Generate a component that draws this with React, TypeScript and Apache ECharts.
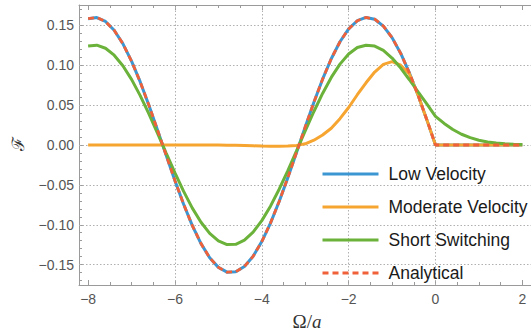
import React, { useEffect, useRef } from "react";
import * as echarts from "echarts";

// sample positions (Ω/a)
const xs = [-8, -7.8, -7.6, -7.4, -7.2, -7, -6.8, -6.6, -6.4, -6.2, -6, -5.8, -5.6, -5.4, -5.2, -5, -4.8, -4.6, -4.4, -4.2, -4, -3.8, -3.6, -3.4, -3.2, -3, -2.8, -2.6, -2.4, -2.2, -2, -1.8, -1.6, -1.4, -1.2, -1, -0.8, -0.6, -0.4, -0.2, 0, 0.2, 0.4, 0.6, 0.8, 1, 1.2, 1.4, 1.6, 1.8, 2];

const lowVelocity = [0.1583, 0.1598, 0.1549, 0.1438, 0.1270, 0.1051, 0.0791, 0.0498, 0.0186, -0.0133, -0.0447, -0.0743, -0.1010, -0.1236, -0.1414, -0.1534, -0.1594, -0.1590, -0.1523, -0.1395, -0.1211, -0.0979, -0.0708, -0.0409, -0.0093, 0.0226, 0.0536, 0.0825, 0.1081, 0.1294, 0.1455, 0.1558, 0.1599, 0.1577, 0.1491, 0.1346, 0.1148, 0.0903, 0.0623, 0.0318, 0, 0, 0, 0, 0, 0, 0, 0, 0, 0, 0];

const moderateVelocity = [0, 0, 0, 0, 0, 0, 0, 0, 0, 0, 0, 0, 0, 0, 0, 0, -0.0002, -0.0004, -0.0007, -0.0010, -0.0013, -0.0015, -0.0016, -0.0013, -0.0005, 0.0015, 0.0060, 0.0125, 0.0210, 0.0330, 0.0470, 0.0630, 0.0780, 0.0915, 0.1010, 0.1045, 0.1000, 0.0890, 0.0623, 0.0318, 0, 0, 0, 0, 0, 0, 0, 0, 0, 0, 0];

const shortSwitching = [0.1240, 0.1251, 0.1213, 0.1126, 0.0994, 0.0823, 0.0619, 0.0390, 0.0146, -0.0104, -0.0350, -0.0582, -0.0791, -0.0968, -0.1107, -0.1201, -0.1248, -0.1245, -0.1193, -0.1092, -0.0948, -0.0767, -0.0554, -0.0320, -0.0073, 0.0177, 0.0420, 0.0646, 0.0847, 0.1014, 0.1140, 0.1222, 0.1250, 0.1240, 0.1186, 0.1090, 0.0964, 0.0818, 0.0665, 0.0515, 0.0360, 0.0270, 0.0195, 0.0135, 0.0092, 0.0060, 0.0038, 0.0024, 0.0015, 0.0009, 0.0005];

const analytical = [0.1583, 0.1598, 0.1549, 0.1438, 0.1270, 0.1051, 0.0791, 0.0498, 0.0186, -0.0133, -0.0447, -0.0743, -0.1010, -0.1236, -0.1414, -0.1534, -0.1594, -0.1590, -0.1523, -0.1395, -0.1211, -0.0979, -0.0708, -0.0409, -0.0093, 0.0226, 0.0536, 0.0825, 0.1081, 0.1294, 0.1455, 0.1558, 0.1599, 0.1577, 0.1491, 0.1346, 0.1148, 0.0903, 0.0623, 0.0318, 0, 0, 0, 0, 0, 0, 0, 0, 0, 0, 0];

const seriesNames = ["Low Velocity", "Moderate Velocity", "Short Switching", "Analytical"];

// ticks
const xMajor = [-8, -6, -4, -2, 0, 2];
const xMinor = [-7.5, -7, -6.5, -5.5, -5, -4.5, -3.5, -3, -2.5, -1.5, -1, -0.5, 0.5, 1, 1.5];
const xGrid = [-6, -4, -2, 0];
const yMajor = [-0.15, -0.1, -0.05, 0, 0.05, 0.1, 0.15];
const yMinor = [-0.17, -0.16, -0.14, -0.13, -0.12, -0.11, -0.09, -0.08, -0.07, -0.06, -0.04, -0.03, -0.02, -0.01, 0.01, 0.02, 0.03, 0.04, 0.06, 0.07, 0.08, 0.09, 0.11, 0.12, 0.13, 0.14, 0.16, 0.17];
const yGrid = [-0.15, -0.1, -0.05, 0, 0.05, 0.1, 0.15];

const X_MIN = -8.21;
const X_MAX = 2.2;
const Y_MIN = -0.1755;
const Y_MAX = 0.1755;

const FRAME = "#9a9a9a";
const LABEL = "#555555";

const minus = (s: string) => s.replace("-", "\u2212");

function pairs(ys: number[]) {
  return xs.map((x, i) => [x, ys[i]]);
}

export default function App() {
  const ref = useRef<HTMLDivElement>(null);
  useEffect(() => {
    if (!ref.current) return;
    const chart = echarts.init(ref.current, undefined, { renderer: "svg" });

    const xAxisBase = (position: string, ticks: number[], len: number, showLine: boolean, showLabel: boolean) => ({
      type: "value",
      min: X_MIN,
      max: X_MAX,
      position,
      axisLine: { show: showLine, onZero: false, lineStyle: { color: FRAME, width: 1 } },
      axisTick: { show: true, inside: true, length: len, customValues: ticks, lineStyle: { color: FRAME, width: 1 } },
      axisLabel: showLabel
        ? {
            show: true,
            customValues: xMajor,
            formatter: (v: number) => minus(String(v)),
            color: LABEL,
            fontSize: 14,
            fontFamily: "Liberation Sans, Arial, sans-serif",
            margin: 7,
          }
        : { show: false },
      splitLine: { show: false },
    });
    const yAxisBase = (ticks: number[], len: number, showLine: boolean, showLabel: boolean) => ({
      type: "value",
      min: Y_MIN,
      max: Y_MAX,
      position: "left",
      axisLine: { show: showLine, onZero: false, lineStyle: { color: FRAME, width: 1 } },
      axisTick: { show: true, inside: true, length: len, customValues: ticks, lineStyle: { color: FRAME, width: 1 } },
      axisLabel: showLabel
        ? {
            show: true,
            customValues: yMajor,
            formatter: (v: number) => minus(v.toFixed(2)),
            color: LABEL,
            fontSize: 14,
            fontFamily: "Liberation Sans, Arial, sans-serif",
            margin: 5,
          }
        : { show: false },
      splitLine: { show: false },
    });

    const colors = ["#3c96d2", "#f6a531", "#6ab23a", "#f0613a"];

    chart.setOption({
      animation: false,
      backgroundColor: "#ffffff",
      grid: { left: 79, top: 5, width: 453, height: 280, containLabel: false },
      xAxis: [
        xAxisBase("bottom", xMajor, 5, true, true),
        xAxisBase("bottom", xMinor, 3, false, false),
        xAxisBase("top", xMajor, 5, true, false),
        xAxisBase("top", xMinor, 3, false, false),
      ],
      yAxis: [
        yAxisBase(yMajor, 5, true, true),
        yAxisBase(yMinor, 3, false, false),
      ],
      legend: {
        orient: "vertical",
        left: 321,
        top: 164,
        padding: 0,
        itemWidth: 56,
        itemHeight: 4,
        itemGap: 13,
        data: seriesNames,
        textStyle: {
          fontSize: 17.5,
          color: "#1a1a1a",
          fontFamily: "Liberation Sans, Arial, sans-serif",
          lineHeight: 20,
          padding: [0, 0, 0, 5],
        },
        itemStyle: { opacity: 0, borderWidth: 0 },
        lineStyle: { width: 3, opacity: 1 },
      },
      series: [
        {
          name: seriesNames[0],
          type: "line",
          data: pairs(lowVelocity),
          symbol: "none",
          color: colors[0],
          lineStyle: { width: 3, color: colors[0] },
          z: 2,
          markLine: {
            silent: true,
            z: 1,
            symbol: ["none", "none"],
            label: { show: false },
            emphasis: { disabled: true },
            lineStyle: { color: "#b0b0b0", type: [1.5, 2], width: 1 },
            data: [
              ...xGrid.map((v) => ({ xAxis: v })),
              ...yGrid.map((v) => ({ yAxis: v })),
            ],
          },
        },
        {
          name: seriesNames[1],
          type: "line",
          data: pairs(moderateVelocity),
          symbol: "none",
          color: colors[1],
          lineStyle: { width: 3, color: colors[1] },
          z: 3,
        },
        {
          name: seriesNames[2],
          type: "line",
          data: pairs(shortSwitching),
          symbol: "none",
          color: colors[2],
          lineStyle: { width: 3, color: colors[2] },
          z: 4,
        },
        {
          name: seriesNames[3],
          type: "line",
          data: pairs(analytical),
          symbol: "none",
          color: colors[3],
          lineStyle: { width: 2.8, color: colors[3], type: [6, 4] },
          z: 5,
        },
      ],
      graphic: [
        {
          type: "text",
          x: 17.5,
          y: 144,
          rotation: Math.PI / 2,
          style: {
            text: "\u2131",
            fontSize: 17,
            fontFamily: "DejaVu Serif, serif",
            fill: "#333",
            align: "center",
            verticalAlign: "middle",
          },
        },
        {
          type: "text",
          x: 307,
          y: 321,
          style: {
            text: "{o|\u03A9}{s|/}{a|a}",
            align: "center",
            verticalAlign: "middle",
            rich: {
              o: { fontSize: 19, fontFamily: "Liberation Serif, serif", fill: "#333" },
              s: { fontSize: 19, fontFamily: "Liberation Serif, serif", fill: "#333" },
              a: { fontSize: 19, fontFamily: "Liberation Serif, serif", fontStyle: "italic", fill: "#333" },
            },
          },
        },
      ],
    });
    return () => chart.dispose();
  }, []);
  return (
    <div
      ref={ref}
      style={{ position: "absolute", left: 0, top: 0, width: 531, height: 335 }}
    />
  );
}
